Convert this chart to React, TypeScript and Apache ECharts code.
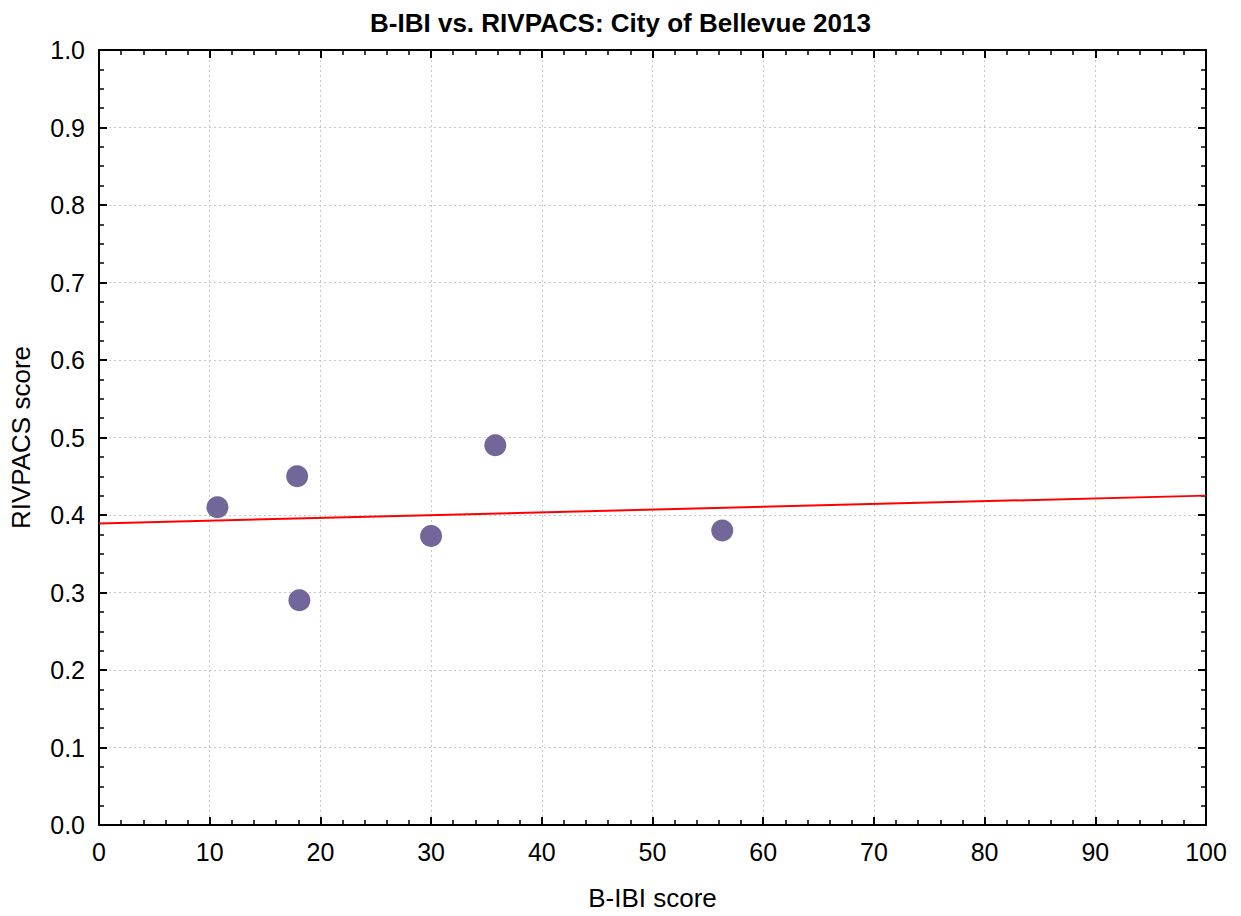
import React, { useEffect, useRef } from "react";
import * as echarts from "echarts";

const pointsX = [10.7, 17.9, 18.1, 30.0, 35.8, 56.3];
const pointsY = [0.41, 0.45, 0.29, 0.373, 0.49, 0.38];
const fitX = [0, 100];
const fitY = [0.389, 0.425];
const titleText = "B-IBI vs. RIVPACS: City of Bellevue 2013";
const xName = "B-IBI score";
const yName = "RIVPACS score";

export default function App() {
  const ref = useRef<HTMLDivElement>(null);
  useEffect(() => {
    const chart = echarts.init(ref.current!, null, { renderer: "svg" });
    const font = "Arial";
    const axisLine = { show: true, onZero: false, lineStyle: { color: "#000", width: 2 } };
    const axisTick = { show: true, inside: true, length: 8, lineStyle: { color: "#000", width: 2 } };
    const minorTick = { show: true, splitNumber: 5, length: 5, lineStyle: { color: "#000", width: 1.5 } };
    const minorTickY = { show: true, splitNumber: 4, length: 5, lineStyle: { color: "#000", width: 1.5 } };
    const splitLine = { show: true, lineStyle: { color: "#c8c8c8", type: [2, 3], width: 1 } };
    chart.setOption({
      animation: false,
      backgroundColor: "#fff",
      title: {
        text: titleText,
        left: "center",
        top: 5,
        textStyle: { fontFamily: font, fontSize: 26, fontWeight: "bold", color: "#000" },
      },
      grid: { left: 98, right: 35, top: 50, bottom: 90 },
      xAxis: [
        {
          type: "value", min: 0, max: 100, interval: 10,
          name: xName, nameLocation: "middle", nameGap: 60,
          nameTextStyle: { fontFamily: font, fontSize: 26, color: "#000" },
          axisLine, axisTick, minorTick,
          axisLabel: { fontFamily: font, fontSize: 25, color: "#000", margin: 14 },
          splitLine,
        },
        {
          type: "value", position: "top", min: 0, max: 100, interval: 10,
          axisLine, axisTick, minorTick,
          axisLabel: { show: false }, splitLine: { show: false },
        },
      ],
      yAxis: [
        {
          type: "value", min: 0, max: 1, interval: 0.1,
          name: yName, nameLocation: "middle", nameGap: 65,
          nameTextStyle: { fontFamily: font, fontSize: 26, color: "#000" },
          axisLine, axisTick, minorTick: minorTickY,
          axisLabel: { fontFamily: font, fontSize: 25, color: "#000", margin: 14, formatter: (v: number) => v.toFixed(1) },
          splitLine,
        },
        {
          type: "value", position: "right", min: 0, max: 1, interval: 0.1,
          axisLine, axisTick, minorTick: minorTickY,
          axisLabel: { show: false }, splitLine: { show: false },
        },
      ],
      series: [
        {
          type: "line",
          data: fitX.map((x, i) => [x, fitY[i]]),
          showSymbol: false,
          lineStyle: { color: "#ff0000", width: 2 },
          z: 2,
        },
        {
          type: "scatter",
          data: pointsX.map((x, i) => [x, pointsY[i]]),
          symbolSize: 22,
          itemStyle: { color: "#736699", opacity: 1 },
          z: 3,
        },
      ],
    });
    return () => chart.dispose();
  }, []);
  return <div ref={ref} style={{ width: 1241, height: 916, position: "absolute", left: 0, top: 0 }} />;
}
